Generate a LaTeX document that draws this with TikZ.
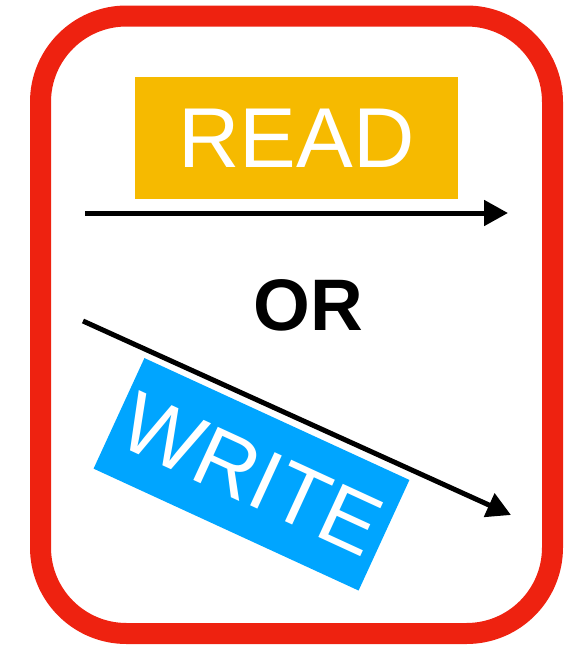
\documentclass[tikz,border=0pt]{standalone}
\usepackage{fontspec}
\setmainfont{Liberation Sans}
\usetikzlibrary{arrows.meta}
\definecolor{frameRed}{RGB}{238,34,16}
\definecolor{readOrange}{RGB}{246,186,0}
\definecolor{writeBlue}{RGB}{0,165,255}
\tikzset{
  labelbox/.style={inner sep=0pt, outer sep=0pt, text=white, font=\fontsize{85}{85}\selectfont},
  flowarrow/.style={line width=5pt, -{Triangle[length=24pt,width=25pt]}}
}
\begin{document}
\begin{tikzpicture}[x=1pt,y=-1pt]
\useasboundingbox (0,0) rectangle (579,646);
\draw[frameRed, line width=21pt, rounded corners=86pt] (40.5,16) rectangle (552.5,633.5);
\node[labelbox, fill=readOrange, minimum width=323pt, minimum height=122.5pt] (read) at (296.5,138) {READ};
\coordinate (a1s) at (85,213);
\coordinate (a1e) at (508,213);
\draw[flowarrow] (a1s) -- (a1e);
\node[font=\bfseries\fontsize{73}{73}\selectfont, inner sep=0pt] (or) at (308,305) {OR};
\node[labelbox, fill=writeBlue, minimum width=291.7pt, minimum height=121.7pt, rotate=-24.7] (write) at (251.5,474.3) {WRITE};
\coordinate (a2s) at (83,321);
\coordinate (a2e) at (511,515);
\draw[flowarrow] (a2s) -- (a2e);
\end{tikzpicture}
\end{document}
